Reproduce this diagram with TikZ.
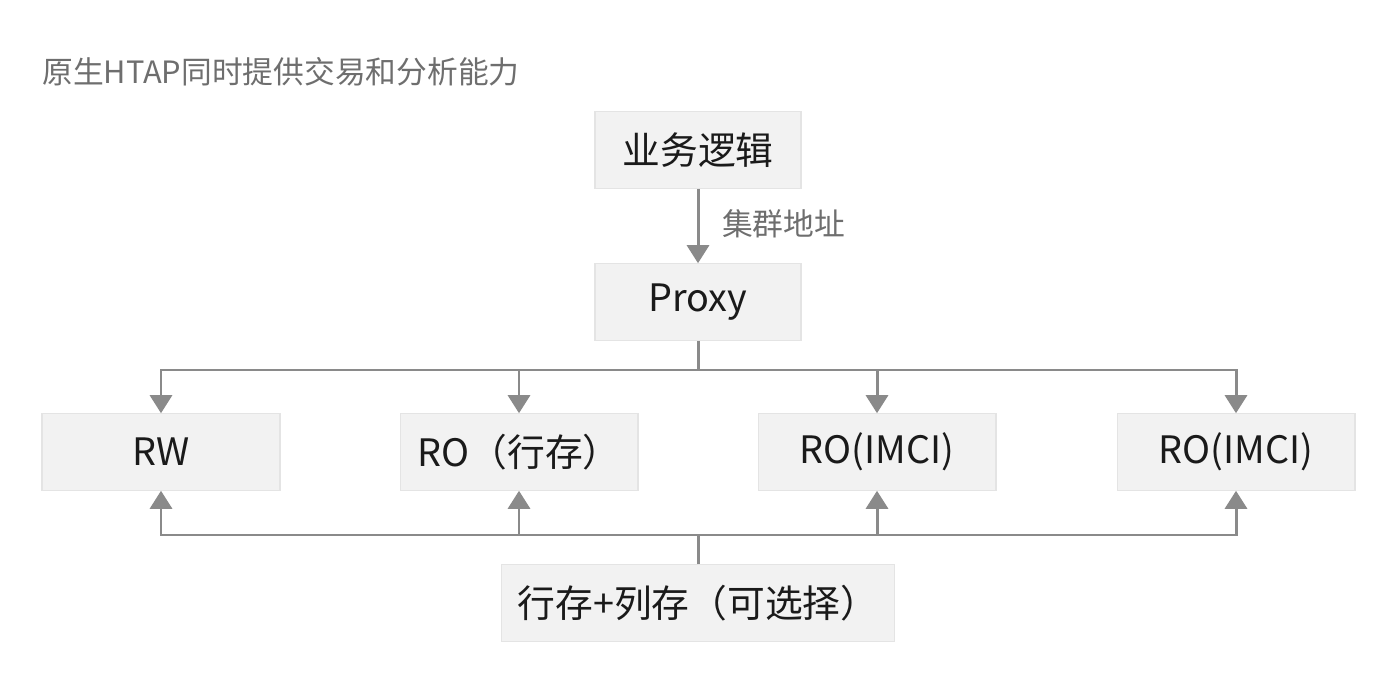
\documentclass[tikz,border=0pt]{standalone}
\usepackage{fontspec}
\setmainfont{Noto Sans CJK SC}
\usepackage{tikz}
\usetikzlibrary{arrows.meta, positioning}
\definecolor{boxfill}{HTML}{F2F2F2}
\definecolor{boxline}{HTML}{E4E4E4}
\definecolor{linkgray}{HTML}{8A8A8A}
\definecolor{titlegray}{HTML}{6E6E6E}
\definecolor{textdark}{HTML}{1A1A1A}
\tikzset{
  >={Triangle[length=0.36cm,width=0.44cm]},
  layer/.style={
    draw=boxline,fill=boxfill,line width=0.6pt,text=textdark,
    font=\fontsize{21.5pt}{25pt}\selectfont,
    minimum height=1.53cm,inner sep=0pt
  },
  link/.style={draw=linkgray,line width=1.7pt},
  linkarr/.style={link,->},
  linklabel/.style={text=titlegray,font=\fontsize{17.5pt}{21pt}\selectfont}
}

\begin{document}
\begin{tikzpicture}[x=0.02cm,y=-0.02cm]
  \useasboundingbox (0,0) rectangle (1400,678);

  % title
  \node[anchor=west,text=titlegray,inner sep=0pt,
    font=\fontsize{17.5pt}{21pt}\selectfont] at (42,72) (title){原生HTAP同时提供交易和分析能力};

  % upper layers
  \node[layer,minimum width=4.12cm] at (698,150) (biz){业务逻辑};
  \node[layer,minimum width=4.12cm] at (698,302) (proxy){Proxy};
  \draw[linkarr] (biz) -- (proxy);
  \node[linklabel,anchor=west] at (716,224) (addr){集群地址};

  % nodes
  \node[layer,minimum width=4.76cm] at (161,452) (rw){RW};
  \node[layer,minimum width=4.76cm] at (519,452) (rorow){RO（行存）};
  \node[layer,minimum width=4.76cm] at (877,452) (roa){RO(IMCI)};
  \node[layer,minimum width=4.76cm] at (1236,452) (rob){RO(IMCI)};

  % storage
  \node[layer,minimum width=7.86cm] at (698,603) (store){行存+列存（可选择）};

  % proxy to nodes
  \coordinate (split) at (698,370);
  \draw[link] (proxy) -- (split);
  \foreach \n in {rw,rorow,roa,rob}
    \draw[linkarr] (split) -| (\n);

  % storage to nodes
  \coordinate (join) at (698,535);
  \draw[link] (store) -- (join);
  \foreach \n in {rw,rorow,roa,rob}
    \draw[linkarr] (join) -| (\n);
\end{tikzpicture}
\end{document}
